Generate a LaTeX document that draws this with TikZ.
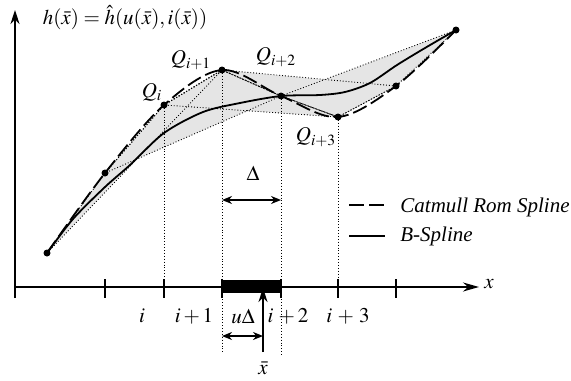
\documentclass[tikz,border=0pt]{standalone}
\usepackage{mathptmx}
\usepackage{fontspec}
\setmainfont{Liberation Serif}
\usepackage{tikz}
\usetikzlibrary{arrows.meta,calc}

\begin{document}
\begin{tikzpicture}[x=0.5pt,y=-0.5pt,
    lbl/.style={font=\fontsize{10.5}{12}\selectfont,inner sep=0pt},
    leg/.style={lbl,anchor=west,font=\fontsize{10.5}{12}\selectfont\itshape},
    axis/.style={line width=1pt},
    tick/.style={line width=0.9pt},
    hull/.style={fill=black!10},
    edge/.style={densely dotted,line width=0.45pt},
    guide/.style={densely dotted,line width=0.45pt},
    catmull/.style={line width=0.9pt,dash pattern=on 7.5pt off 2.5pt},
    bspl/.style={line width=0.9pt},
    arr/.style={-{Stealth[length=7pt,width=4.5pt]},line width=1pt},
    dim/.style={{Stealth[length=5pt,width=4pt]}-{Stealth[length=5pt,width=4pt]},line width=0.9pt}
  ]
  \useasboundingbox (0,0) rectangle (571,380);

  \coordinate (p0) at (47,253);
  \coordinate (p1) at (105,173);
  \coordinate (p2) at (164,105);
  \coordinate (p3) at (222,70);
  \coordinate (p4) at (281,96);
  \coordinate (p5) at (338,117);
  \coordinate (p6) at (396,86);
  \coordinate (p7) at (456,30);

  \foreach \a/\b/\c/\d in {p0/p1/p2/p3,p1/p2/p3/p4,p2/p3/p4/p5,p3/p4/p5/p6,p4/p5/p6/p7}
    \fill[hull] (\a) -- (\b) -- (\c) -- (\d) -- cycle;
  \foreach \a/\b/\c/\d in {p0/p1/p2/p3,p1/p2/p3/p4,p2/p3/p4/p5,p3/p4/p5/p6,p4/p5/p6/p7}
    \draw[edge] (\a) -- (\b) -- (\c) -- (\d) -- cycle;

  \coordinate (o) at (15,287);
  \coordinate (obot) at (15,298);
  \coordinate (ytop) at (15,10);
  \coordinate (xend) at (479,287);
  \draw[axis,-{Stealth[length=7pt,width=4.5pt]}] (obot) -- (ytop);
  \draw[axis,-{Stealth[length=8pt,width=4.5pt]}] (o) -- (xend);
  \node[lbl,anchor=west] (xlab) at (484,284) {$x$};
  \foreach \t in {105,164,222,281,338,396}
    \draw[tick] (\t,279) -- (\t,298);
  \fill (222,280) rectangle (281,293);

  \coordinate (g3) at (222,352);
  \coordinate (g4) at (281,355);
  \draw[guide] (p2) -- (p2 |- o);
  \draw[guide] (p3) -- (g3);
  \draw[guide] (p4) -- (g4);
  \draw[guide] (p5) -- (p5 |- o);

  \draw[catmull] plot[smooth,tension=0.55] coordinates {(p0) (p1) (p2) (p3) (p4) (p5) (p6) (p7)};
  \draw[bspl] plot[smooth,tension=0.5] coordinates {(47,253) (73,219) (105,187) (130,165) (164,133) (203,112) (240,103) (281,96) (320,95) (345,92) (370,83) (397,65) (425,48) (456,30)};
  \foreach \p in {p0,p1,p2,p3,p4,p5,p6,p7}
    \fill (\p) circle (1.75pt);

  \node[lbl] (form) at (125,18) {$h(\bar{x}) = \hat{h}(u(\bar{x}),i(\bar{x}))$};
  \node[lbl] (lq0) at (152,92) {$Q_i$};
  \node[lbl] (lq1) at (191,60) {$Q_{i+1}$};
  \node[lbl] (lq2) at (276,57) {$Q_{i+2}$};
  \node[lbl] (lq3) at (316,137) {$Q_{i+3}$};

  \coordinate (da) at (222,200);
  \coordinate (db) at (281,200);
  \draw[dim] (da) -- (db);
  \node[lbl] (dlt) at (253,173) {$\Delta$};

  \coordinate (ua) at (222,336);
  \coordinate (ub) at (263,336);
  \draw[dim] (ua) -- (ub);
  \coordinate (xb) at (263,352);
  \coordinate (xt) at (263,288);
  \draw[arr] (xb) -- (xt);
  \node[lbl] (xbar) at (263,368) {$\bar{x}$};

  \node[lbl] (li0) at (142,316) {$i$};
  \node[lbl] (li1) at (194,316) {$i+1$};
  \node[lbl] (lu) at (243,316) {$u\Delta$};
  \node[lbl] (li2) at (288,316) {$i\,+2$};
  \node[lbl] (li3) at (348,316) {$i\,+\,3$};

  \coordinate (la) at (349,205);
  \coordinate (lb) at (385,205);
  \coordinate (lc) at (349,236);
  \coordinate (ld) at (385,236);
  \draw[catmull] (la) -- (lb);
  \draw[bspl] (lc) -- (ld);
  \node[leg] (lcr) at (400,207) {Catmull Rom Spline};
  \node[leg] (lbs) at (400,236) {B-Spline};
\end{tikzpicture}
\end{document}
